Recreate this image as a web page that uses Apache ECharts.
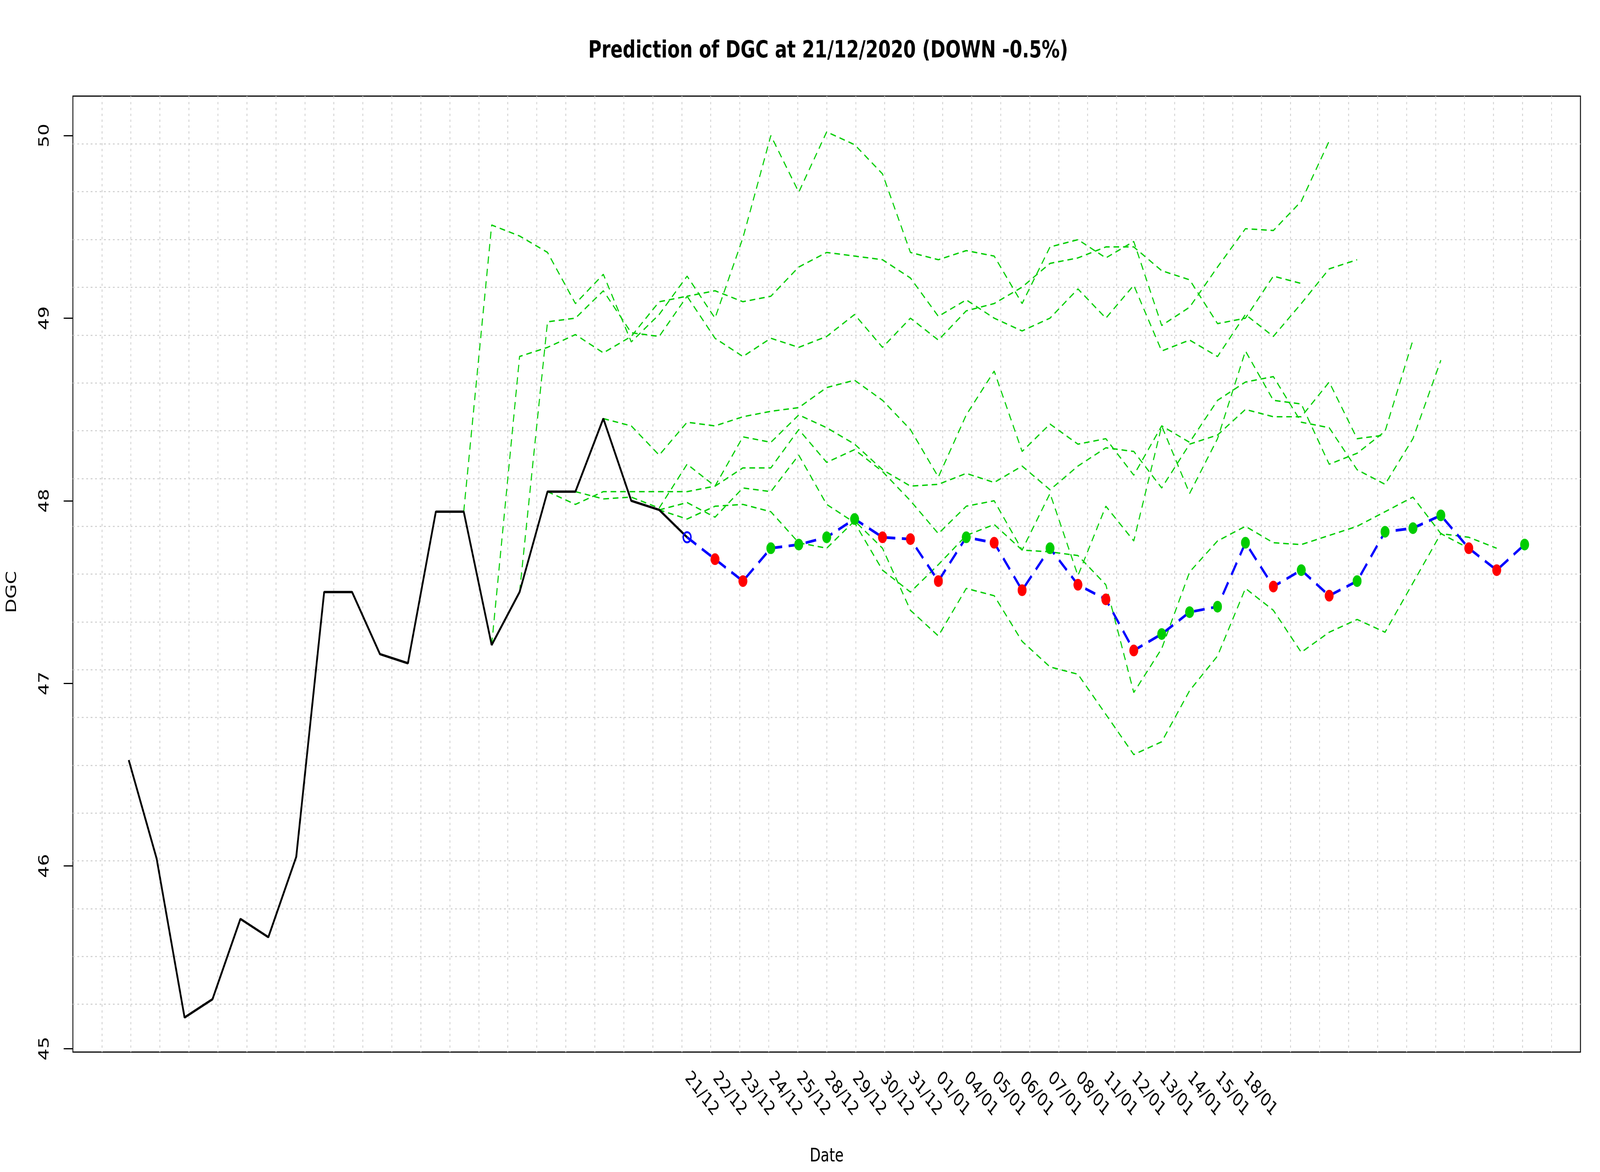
<!DOCTYPE html>
<html>
<head>
<meta charset="utf-8">
<script src="https://cdn.jsdelivr.net/npm/echarts@6/dist/echarts.min.js"></script>
<style>
  html, body { margin: 0; padding: 0; background: #fff; overflow: hidden; }
  #chart { width: 5400px; height: 3000px; transform-origin: 0 0; }
</style>
</head>
<body>
<div id="chart"></div>
<script>
// observed closes, index 0..20
const historyValues = [46.58, 46.04, 45.17, 45.27, 45.71, 45.61, 46.05, 47.50, 47.50, 47.16,
    47.11, 47.94, 47.94, 47.21, 47.50, 48.05, 48.05, 48.45, 48.00, 47.95, 47.80];

// current prediction, index 20..50
const predictionStart = 20;
const predictionValues = [47.80, 47.68, 47.56, 47.74, 47.76, 47.80, 47.90, 47.80, 47.79, 47.56,
    47.80, 47.77, 47.51, 47.74, 47.54, 47.46, 47.18, 47.27, 47.39, 47.42, 47.77, 47.53, 47.62,
    47.48, 47.56, 47.83, 47.85, 47.92, 47.74, 47.62, 47.76];

// older predictions, each starting at its own index
const past12 = [47.94, 49.51, 49.45, 49.36, 49.08, 49.24, 48.87, 49.02, 49.23, 49.00, 49.44,
    50.00, 49.69, 50.02, 49.95, 49.79, 49.36, 49.32, 49.37, 49.34, 49.08, 49.39, 49.43, 49.33,
    49.42, 48.96, 49.06, 49.28, 49.49, 49.48, 49.64, 49.97];
const past13 = [47.21, 48.79, 48.84, 48.91, 48.81, 48.90, 49.09, 49.12, 48.89, 48.79, 48.89,
    48.84, 48.90, 49.02, 48.84, 49.00, 48.88, 49.04, 49.08, 49.17, 49.30, 49.33, 49.39, 49.39,
    49.26, 49.21, 48.97, 49.00, 49.23, 49.19];
const past14 = [47.50, 48.98, 49.00, 49.15, 48.92, 48.90, 49.12, 49.15, 49.09, 49.12, 49.28,
    49.36, 49.34, 49.32, 49.22, 49.01, 49.10, 49.00, 48.93, 49.00, 49.16, 49.00, 49.18, 48.82,
    48.88, 48.79, 49.02, 48.90, 49.08, 49.27, 49.32];
const past15 = [48.05, 47.98, 48.05, 48.05, 48.05, 48.05, 48.08, 48.35, 48.32, 48.47, 48.40,
    48.31, 48.17, 48.08, 48.09, 48.15, 48.10, 48.19, 48.06, 48.19, 48.29, 48.27, 48.07, 48.31,
    48.36, 48.50, 48.46, 48.46, 48.65, 48.34, 48.36];
const past16 = [48.05, 48.01, 48.02, 47.96, 48.20, 48.08, 48.18, 48.18, 48.39, 48.21, 48.28,
    48.16, 48.00, 47.82, 47.97, 48.00, 47.73, 48.04, 47.59, 47.97, 47.78, 48.41, 48.04, 48.34,
    48.82, 48.55, 48.53, 48.20, 48.26, 48.38, 48.88];
const past17 = [48.45, 48.41, 48.25, 48.43, 48.41, 48.46, 48.49, 48.51, 48.62, 48.66, 48.55,
    48.39, 48.13, 48.47, 48.71, 48.27, 48.42, 48.31, 48.34, 48.14, 48.41, 48.32, 48.55, 48.65,
    48.68, 48.43, 48.40, 48.17, 48.09, 48.34, 48.77];
const past18 = [48.00, 47.95, 47.90, 47.97, 47.98, 47.94, 47.77, 47.74, 47.89, 47.74, 47.40,
    47.26, 47.52, 47.48, 47.23, 47.09, 47.05, 46.83, 46.61, 46.68, 46.96, 47.15, 47.52, 47.40,
    47.17, 47.28, 47.35, 47.28, 47.55, 47.82, 47.74];
const past19 = [47.95, 47.99, 47.91, 48.07, 48.05, 48.25, 47.98, 47.88, 47.62, 47.50, 47.65,
    47.81, 47.87, 47.73, 47.72, 47.70, 47.54, 46.95, 47.19, 47.61, 47.78, 47.86, 47.77, 47.76,
    47.81, 47.86, 47.94, 48.02, 47.82, 47.80, 47.74];
const pastRuns = [
    { start: 12, values: past12 },
    { start: 13, values: past13 },
    { start: 14, values: past14 },
    { start: 15, values: past15 },
    { start: 16, values: past16 },
    { start: 17, values: past17 },
    { start: 18, values: past18 },
    { start: 19, values: past19 },
];

// tick labels, index 20..40
const labelStart = 20;
const dateLabels = ["21/12", "22/12", "23/12", "24/12", "25/12", "28/12", "29/12", "30/12",
    "31/12", "01/01", "04/01", "05/01", "06/01", "07/01", "08/01", "11/01", "12/01", "13/01",
    "14/01", "15/01", "18/01"];

const FONT = "DejaVu Sans";
const GREEN = "#00CD00";

// draw at 5400 x 3000 and fit that into whatever window we get
const chartElem = document.getElementById("chart");
chartElem.style.transform =
    "scale(" + window.innerWidth / 5400 + "," + window.innerHeight / 3000 + ")";

const chart = echarts.init(chartElem, null, { width: 5400, height: 3000, renderer: "canvas" });

const toPoints = (start, values) => values.map((v, i) => [start + i, v]);

const series = [];

pastRuns.forEach((run) => {
    series.push({
        type: "line",
        xAxisIndex: 0,
        yAxisIndex: 0,
        data: toPoints(run.start, run.values),
        symbol: "none",
        clip: false,
        lineStyle: { color: GREEN, width: 3.5, type: [19, 13] },
        silent: true,
        z: 3,
    });
});

series.push({
    type: "line",
    xAxisIndex: 0,
    yAxisIndex: 0,
    data: toPoints(0, historyValues),
    symbol: "none",
    clip: false,
    lineStyle: { color: "#000", width: 6 },
    silent: true,
    z: 4,
});

// up = green dot, down = red dot
const predData = predictionValues.map((v, i) => {
    const x = predictionStart + i;
    if (i === 0) {
        return {
            value: [x, v],
            symbol: "circle",
            symbolSize: 26,
            itemStyle: { color: "rgba(0,0,0,0)", borderColor: "#0000FF", borderWidth: 5 },
        };
    }
    const up = v >= predictionValues[i - 1];
    return {
        value: [x, v],
        symbol: "circle",
        symbolSize: 30,
        itemStyle: { color: up ? GREEN : "#FF0000", borderWidth: 0 },
    };
});

series.push({
    type: "line",
    xAxisIndex: 0,
    yAxisIndex: 0,
    data: predData,
    showAllSymbol: true,
    clip: false,
    lineStyle: { color: "#0000FF", width: 7, type: [36, 22] },
    silent: true,
    z: 5,
});

const gridLine = {
    show: true,
    showMinLine: false,
    showMaxLine: false,
    lineStyle: { color: "#d3d3d3", width: 3, type: [6, 9] },
};

const hidden = {
    axisLine: { show: false, onZero: false },
    axisTick: { show: false },
    axisLabel: { show: false },
};

const options = {
    animation: false,
    backgroundColor: "#fff",
    title: {
        text: "Prediction of DGC at 21/12/2020 (DOWN -0.5%)",
        left: 2790,
        textAlign: "center",
        top: 96,
        textStyle: { fontFamily: FONT, fontSize: 61, fontWeight: "bold", color: "#000" },
    },
    grid: [
        // frame: the plotted box with its dotted grid
        { left: 246, right: 66, top: 246, bottom: 307, show: true, borderColor: "#000", borderWidth: 3 },
        // data: the 45..50 part of the box
        { left: 246, right: 66, top: 347, bottom: 316, show: false },
    ],
    xAxis: [
        {
            gridIndex: 1,
            type: "value",
            min: -2,
            max: 52,
            name: "Date",
            nameLocation: "middle",
            nameGap: 253,
            nameTextStyle: { fontFamily: FONT, fontSize: 48, color: "#000" },
            axisLine: { show: false, onZero: false },
            axisTick: { show: false },
            splitLine: { show: false },
            axisLabel: {
                customValues: dateLabels.map((d, i) => labelStart + i),
                formatter: (v) => dateLabels[Math.round(v) - labelStart] || "",
                rotate: -45,
                margin: 68,
                fontFamily: FONT,
                fontSize: 48,
                color: "#000",
            },
        },
        Object.assign({ gridIndex: 0, type: "value", min: 0, max: 52, interval: 1, splitLine: gridLine }, hidden),
    ],
    yAxis: [
        {
            gridIndex: 1,
            type: "value",
            min: 45,
            max: 50,
            interval: 1,
            name: "DGC",
            nameLocation: "middle",
            nameGap: 180,
            nameRotate: 90,
            nameTextStyle: { fontFamily: FONT, fontSize: 48, color: "#000" },
            axisLine: { show: false, onZero: false },
            axisTick: { show: true, length: 31, lineStyle: { color: "#000", width: 3 } },
            splitLine: { show: false },
            axisLabel: {
                rotate: 90,
                margin: 70,
                fontFamily: FONT,
                fontSize: 48,
                color: "#000",
            },
        },
        Object.assign({ gridIndex: 0, type: "value", min: 0, max: 20, interval: 1, splitLine: gridLine }, hidden),
    ],
    series: series,
};

chart.setOption(options);
</script>
</body>
</html>
